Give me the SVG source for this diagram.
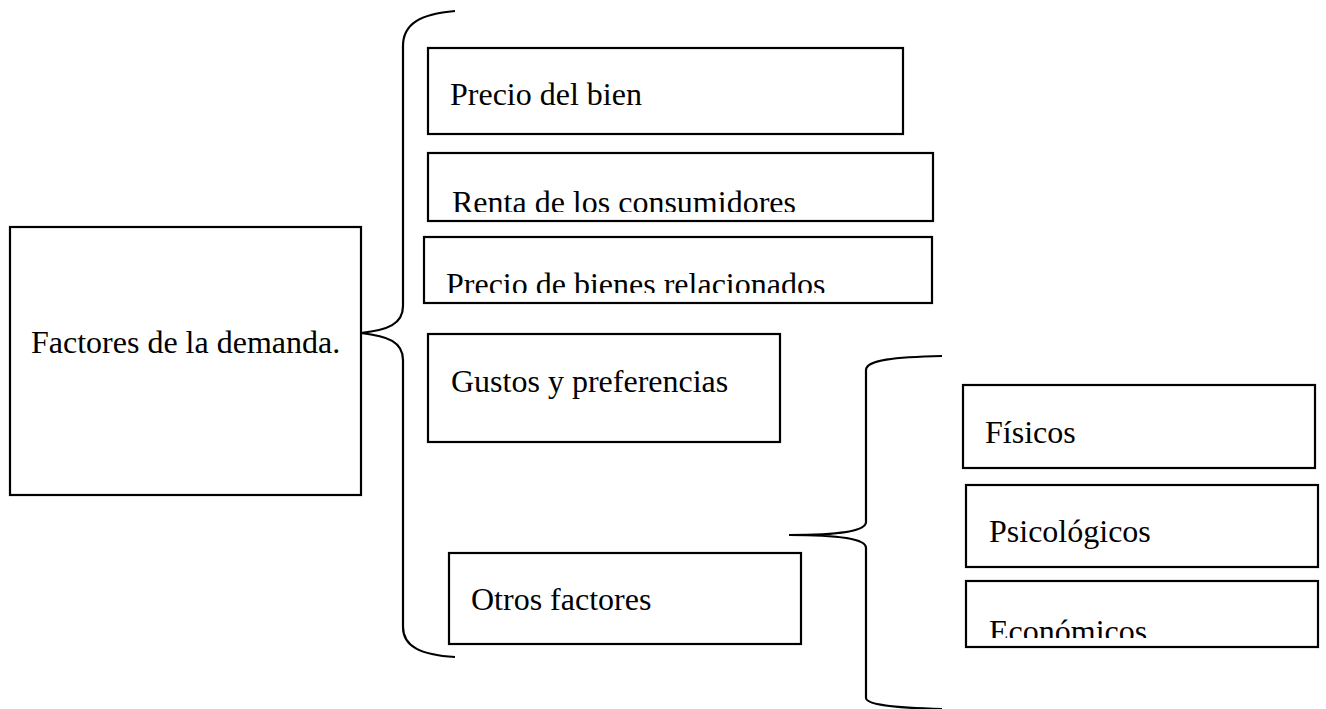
<svg xmlns="http://www.w3.org/2000/svg" width="1326" height="709" viewBox="0 0 1326 709">
<style>
.box{fill:#fff;stroke:#000;stroke-width:2.2}
.lbl{font-family:"Liberation Serif","Times New Roman",serif;font-size:32px;fill:#000}
.brace{fill:none;stroke:#000;stroke-width:2.2}
</style>
<defs>
<clipPath id="cRenta"><rect x="428" y="153" width="505" height="59"/></clipPath>
<clipPath id="cBienes"><rect x="424" y="237" width="508" height="56"/></clipPath>
<clipPath id="cEcon"><rect x="966" y="581" width="352" height="57"/></clipPath>
</defs>
<rect width="1326" height="709" fill="#fff"/>
<g id="connectors">
<path class="brace" d="M455,11 C420,14 403,24 403,46 L403,306 C403,324 388,330 361,333 C388,336 403,342 403,360 L403,627 C403,646 420,655 455,657"/>
<path class="brace" d="M942,356 C895,357 866,360 866,370 L866,522 C866,531 840,535 789,535 C840,535 866,539 866,548 L866,698 C866,704 890,708 942,709"/>
</g>
<g id="n-factores"><rect class="box" x="10" y="227" width="351" height="268"/><text class="lbl" x="31" y="353">Factores de la demanda.</text></g>
<g id="n-precio"><rect class="box" x="428" y="48" width="475" height="86"/><text class="lbl" x="450" y="105">Precio del bien</text></g>
<g id="n-renta"><rect class="box" x="428" y="153" width="505" height="68"/><text class="lbl" x="452" y="213" clip-path="url(#cRenta)">Renta de los consumidores</text></g>
<g id="n-bienes"><rect class="box" x="424" y="237" width="508" height="66"/><text class="lbl" x="446" y="295" clip-path="url(#cBienes)">Precio de bienes relacionados</text></g>
<g id="n-gustos"><rect class="box" x="428" y="334" width="352" height="108"/><text class="lbl" x="451" y="392">Gustos y preferencias</text></g>
<g id="n-otros"><rect class="box" x="449" y="553" width="352" height="91"/><text class="lbl" x="471" y="610">Otros factores</text></g>
<g id="n-fisicos"><rect class="box" x="963" y="385" width="352" height="83"/><text class="lbl" x="985" y="443">Físicos</text></g>
<g id="n-psico"><rect class="box" x="966" y="485" width="352" height="82"/><text class="lbl" x="989" y="542">Psicológicos</text></g>
<g id="n-econ"><rect class="box" x="966" y="581" width="352" height="66"/><text class="lbl" x="989" y="642" clip-path="url(#cEcon)">Económicos</text></g>
</svg>
